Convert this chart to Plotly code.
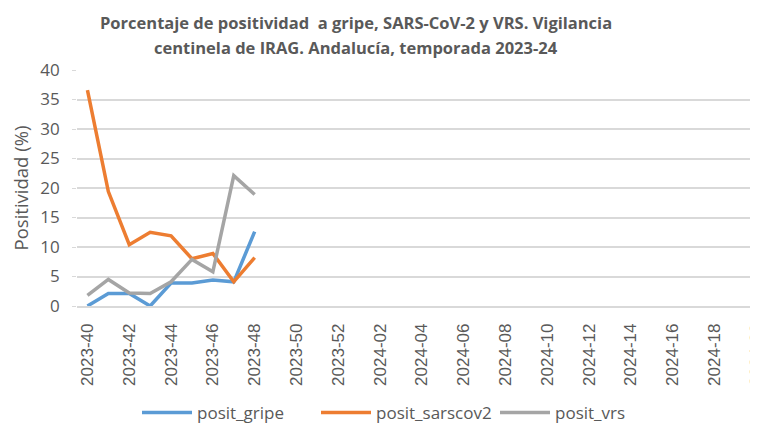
import plotly.graph_objects as go

weeks_2023 = [f"2023-{w:02d}" for w in range(40, 53)]
weeks_2024 = [f"2024-{w:02d}" for w in range(1, 21)]
categories = weeks_2023 + weeks_2024

data_weeks = ["2023-40", "2023-41", "2023-42", "2023-43", "2023-44",
              "2023-45", "2023-46", "2023-47", "2023-48"]
posit_gripe = [0.0, 2.1, 2.1, 0.0, 3.9, 3.9, 4.4, 4.1, 12.6]
posit_sarscov2 = [36.6, 19.4, 10.4, 12.5, 11.9, 8.0, 8.9, 4.1, 8.2]
posit_vrs = [1.8, 4.5, 2.2, 2.1, 4.1, 7.9, 5.8, 22.1, 18.9]

title_lines = ["Porcentaje de positividad  a gripe, SARS-CoV-2 y VRS. Vigilancia",
               "centinela de IRAG. Andalucía, temporada 2023-24"]

tick_labels = categories[::2]

# page body has an 8px margin: figure is offset by 8px; sized to end at the right window edge
OFF = 8
PL, PT, PW, PH = 77, 70, 681, 236  # plot area in page pixels
FIG_H = 426

fig = go.Figure()
series = [("posit_gripe", posit_gripe, "#5B9BD5"),
          ("posit_sarscov2", posit_sarscov2, "#ED7D31"),
          ("posit_vrs", posit_vrs, "#A5A5A5")]
for name, vals, color in series:
    fig.add_trace(go.Scatter(x=data_weeks, y=vals, name=name, mode="lines",
                             line=dict(color=color, width=3.5)))

title_font = dict(family="Open Sans", size=16.5, color="#595959", weight="bold")
for i, line in enumerate(title_lines):
    fig.add_annotation(text=line, xref="paper", yref="paper",
                       x=(356 - PL) / PW, xanchor="center",
                       y=1 + (PT - (22 + 25 * i)) / PH, yanchor="middle",
                       showarrow=False, font=title_font)

fig.update_layout(
    width=758 - OFF, height=FIG_H,
    margin=dict(l=PL - OFF, r=0, t=PT - OFF, b=FIG_H + OFF - (PT + PH)),
    paper_bgcolor="white", plot_bgcolor="white",
    font=dict(family="Liberation Sans", color="#595959"),
    showlegend=True,
    legend=dict(orientation="h", x=(405.5 - PL) / PW, xanchor="center",
                y=-(413 - (PT + PH)) / PH, yanchor="middle", entrywidth=114,
                itemwidth=50,
                font=dict(family="Open Sans", size=17, color="#595959")),
    xaxis=dict(type="category", categoryorder="array", categoryarray=categories,
               range=[-0.5, 32.08], tickmode="array", tickvals=tick_labels,
               ticktext=tick_labels, tickangle=-90, showgrid=False, automargin=False,
               showline=True, linecolor="#D9D9D9", linewidth=1.5, ticklabelstandoff=9,
               tickfont=dict(family="Liberation Sans", size=17, color="#595959")),
    yaxis=dict(range=[0, 40], dtick=5, showgrid=True, gridcolor="#D9D9D9", gridwidth=1.5,
               zeroline=False, ticks="outside", ticklen=4, tickcolor="#D9D9D9",
               automargin=False, ticksuffix="\u00a0\u00a0",
               title=dict(text="Positividad (%)", standoff=14,
                          font=dict(family="Open Sans", size=18.5, color="#595959")),
               tickfont=dict(family="Open Sans", size=17, color="#595959")),
)

fig.write_html("out.html")
